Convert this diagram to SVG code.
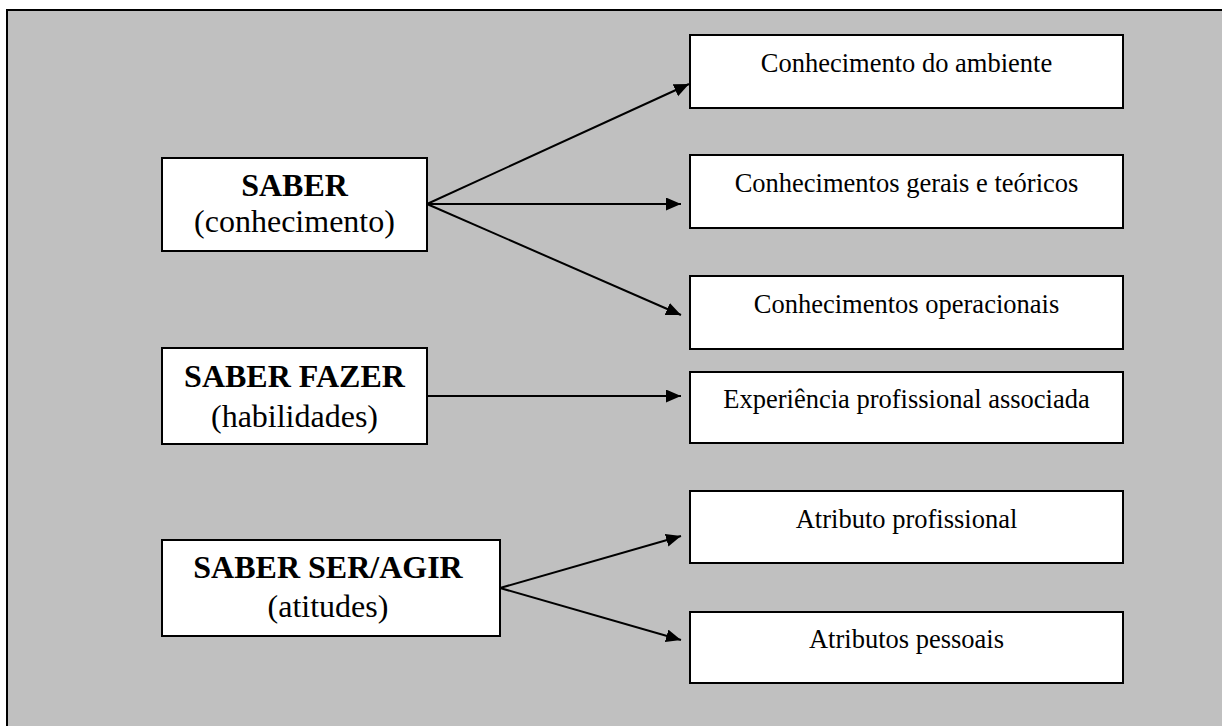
<svg xmlns="http://www.w3.org/2000/svg" width="1222" height="726" viewBox="0 0 1222 726">
<style>
.box{fill:#ffffff;stroke:#000000;stroke-width:2}
.t{font-family:"Liberation Serif","Times New Roman",serif;fill:#000000;text-anchor:middle}
.big{font-size:32px}
.b{font-weight:bold}
.sm{font-size:26.5px}
.conn line{stroke:#000000;stroke-width:2;marker-end:url(#arr)}
</style>
<defs>
<marker id="arr" markerUnits="userSpaceOnUse" markerWidth="16" markerHeight="14" refX="15" refY="6.5" orient="auto">
<path d="M0,0 L15,6.5 L0,13 z" fill="#000000"/>
</marker>
</defs>
<rect x="0" y="0" width="1222" height="726" fill="#ffffff"/>
<rect x="7" y="10" width="1230" height="740" fill="#c0c0c0" stroke="#000000" stroke-width="2"/>
<g id="saber">
<rect class="box" x="162" y="158" width="265" height="93"/>
<text class="t big b" x="294.5" y="196">SABER</text>
<text class="t big" x="294.5" y="232">(conhecimento)</text>
</g>
<g id="saber-fazer">
<rect class="box" x="162" y="348" width="265" height="96"/>
<text class="t big b" x="294.5" y="387">SABER FAZER</text>
<text class="t big" x="294.5" y="427">(habilidades)</text>
</g>
<g id="saber-ser">
<rect class="box" x="162" y="540" width="338" height="96"/>
<text class="t big b" x="328" y="578">SABER SER/AGIR</text>
<text class="t big" x="328" y="617">(atitudes)</text>
</g>
<g id="ambiente">
<rect class="box" x="690" y="35" width="433" height="73"/>
<text class="t sm" x="906.5" y="72">Conhecimento do ambiente</text>
</g>
<g id="gerais">
<rect class="box" x="690" y="155" width="433" height="73"/>
<text class="t sm" x="906.5" y="192">Conhecimentos gerais e teóricos</text>
</g>
<g id="operacionais">
<rect class="box" x="690" y="276" width="433" height="73"/>
<text class="t sm" x="906.5" y="313">Conhecimentos operacionais</text>
</g>
<g id="experiencia">
<rect class="box" x="690" y="372" width="433" height="71"/>
<text class="t sm" x="906.5" y="408">Experiência profissional associada</text>
</g>
<g id="atributo">
<rect class="box" x="690" y="491" width="433" height="72"/>
<text class="t sm" x="906.5" y="528">Atributo profissional</text>
</g>
<g id="pessoais">
<rect class="box" x="690" y="612" width="433" height="71"/>
<text class="t sm" x="906.5" y="648">Atributos pessoais</text>
</g>
<g id="connectors" class="conn">
<line x1="427" y1="204" x2="689" y2="84"/>
<line x1="427" y1="204" x2="681" y2="204"/>
<line x1="427" y1="204" x2="681" y2="315"/>
<line x1="427" y1="396" x2="681" y2="396"/>
<line x1="500" y1="588" x2="681" y2="536"/>
<line x1="500" y1="588" x2="681" y2="640"/>
</g>
</svg>
